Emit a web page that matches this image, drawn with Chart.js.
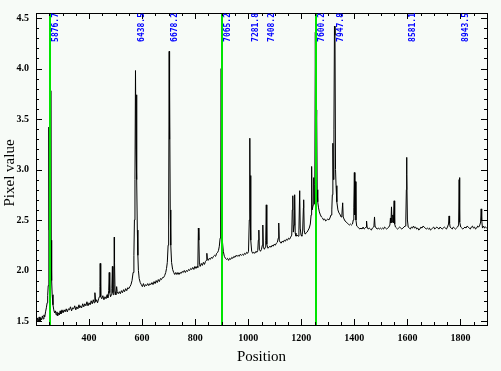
<!DOCTYPE html>
<html>
<head>
<meta charset="utf-8">
<script src="https://cdn.jsdelivr.net/npm/chart.js@4"></script>
<style>
  body { margin: 0; background: #f7fbf7; }
  #wrap { width: 501px; height: 371px; }
</style>
</head>
<body>
<div id="wrap"><canvas id="spec" width="501" height="371"></canvas></div>
<script>
// axis ticks
const xTicks = [400, 600, 800, 1000, 1200, 1400, 1600, 1800];
const yTicks = [1.5, 2.0, 2.5, 3.0, 3.5, 4.0, 4.5];

// identified lines (label, position)
const lineNames = ["5876.7", "6438.5", "6678.2", "7065.2", "7281.8", "7408.2", "7600.2", "7947.8", "8581.1", "8943.5"];
const linePos = [253, 577, 701, 900, 1006, 1066, 1254, 1326, 1597, 1797];

// green marker lines
const markerPos = [253, 900, 1257];

// [position, pixel value]
const spectrum = [
  [200,1.52],[203,1.49],[206,1.53],[209,1.50],[212,1.54],[215,1.49],[218,1.53],[221,1.51],[224,1.55],[227,1.52],
  [230,1.56],[233,1.54],[236,1.59],[239,1.63],[242,1.68],[244,1.75],[246,1.85],[248,2.2],[249,3.42],[250,2.4],
  [252,2.6],[254,2.3],[256,3.78],[257,2.3],[259,1.9],[261,1.76],[264,1.66],[267,1.61],[270,1.58],[273,1.60],
  [276,1.56],[279,1.59],[282,1.55],[285,1.58],[288,1.56],[291,1.60],[294,1.57],[298,1.61],[302,1.58],[306,1.61],
  [310,1.59],[314,1.62],[318,1.59],[322,1.62],[326,1.61],[330,1.64],[334,1.60],[338,1.63],[342,1.62],[346,1.65],
  [350,1.61],[354,1.64],[358,1.62],[362,1.66],[365,1.63],[368,1.65],[372,1.63],[376,1.67],[380,1.64],[384,1.67],
  [388,1.65],[392,1.69],[396,1.65],[400,1.68],[404,1.66],[408,1.70],[412,1.67],[416,1.71],[419,1.68],[422,1.78],
  [425,1.69],[428,1.71],[432,1.68],[436,1.72],[439,1.74],[441,1.84],[442,2.07],[443,1.88],[445,1.74],[448,1.72],
  [452,1.75],[456,1.71],[460,1.74],[464,1.72],[468,1.76],[471,1.73],[474,1.80],[476,1.98],[478,1.78],[481,1.74],
  [484,1.76],[486,1.82],[488,2.04],[490,1.78],[492,1.76],[494,1.86],[495,2.33],[496,2.08],[498,1.79],[501,1.76],
  [504,1.84],[506,1.79],[510,1.77],[514,1.79],[518,1.77],[522,1.80],[526,1.78],[530,1.81],[534,1.79],[538,1.82],
  [542,1.80],[546,1.83],[550,1.82],[554,1.84],[558,1.86],[562,1.90],[566,1.98],[569,2.15],[571,2.5],[573,2.9],
  [575,3.98],[577,3.2],[579,3.74],[580,2.9],[582,2.4],[584,2.15],[586,2.0],[589,1.92],[593,1.88],[597,1.86],
  [601,1.84],[605,1.87],[609,1.84],[613,1.86],[617,1.85],[621,1.87],[625,1.85],[629,1.87],[633,1.86],[637,1.88],
  [641,1.86],[645,1.89],[649,1.87],[653,1.90],[657,1.88],[661,1.91],[665,1.89],[669,1.92],[673,1.91],[677,1.93],
  [681,1.93],[685,1.95],[689,1.98],[692,2.02],[695,2.08],[698,2.25],[700,2.5],[702,4.17],[703,3.3],[704,3.81],
  [706,2.6],[708,2.25],[711,2.08],[715,2.01],[719,1.98],[723,1.96],[727,1.98],[731,1.96],[735,1.98],[739,1.96],
  [743,1.98],[747,1.97],[751,1.99],[755,1.98],[759,2.00],[763,1.98],[767,2.00],[771,1.99],[775,2.01],[779,2.00],
  [783,2.02],[787,2.01],[791,2.03],[795,2.01],[799,2.04],[803,2.02],[807,2.04],[810,2.03],[812,2.42],[814,2.30],
  [816,2.06],[819,2.04],[823,2.07],[827,2.05],[831,2.08],[835,2.06],[839,2.09],[842,2.10],[844,2.17],[846,2.11],
  [849,2.10],[853,2.12],[857,2.11],[861,2.13],[865,2.12],[869,2.14],[873,2.15],[877,2.14],[881,2.17],[885,2.18],
  [888,2.20],[891,2.24],[894,2.32],[896,2.5],[898,4.0],[899,3.0],[901,2.45],[903,2.28],[906,2.19],[910,2.14],
  [914,2.12],[918,2.11],[922,2.12],[926,2.10],[930,2.12],[934,2.11],[938,2.13],[942,2.12],[946,2.14],[950,2.13],
  [954,2.15],[958,2.14],[962,2.15],[966,2.14],[970,2.16],[974,2.15],[978,2.16],[982,2.15],[986,2.17],[990,2.16],
  [994,2.18],[998,2.17],[1001,2.19],[1004,2.5],[1006,3.31],[1007,2.6],[1009,2.94],[1010,2.3],[1013,2.19],[1017,2.17],
  [1021,2.18],[1025,2.17],[1029,2.19],[1033,2.18],[1036,2.20],[1038,2.30],[1040,2.40],[1042,2.21],[1046,2.19],[1050,2.21],
  [1053,2.25],[1055,2.45],[1057,2.23],[1061,2.21],[1064,2.23],[1066,2.30],[1068,2.65],[1070,2.26],[1074,2.22],[1078,2.23],
  [1082,2.24],[1086,2.23],[1090,2.25],[1094,2.24],[1098,2.26],[1102,2.25],[1106,2.27],[1110,2.28],[1113,2.32],[1115,2.47],
  [1117,2.30],[1120,2.28],[1124,2.27],[1128,2.29],[1132,2.28],[1136,2.30],[1140,2.29],[1144,2.31],[1148,2.30],[1152,2.32],
  [1156,2.31],[1160,2.33],[1164,2.35],[1166,2.60],[1168,2.74],[1170,2.38],[1173,2.45],[1175,2.75],[1177,2.37],[1180,2.34],
  [1184,2.35],[1188,2.34],[1191,2.40],[1194,2.79],[1196,2.42],[1199,2.35],[1202,2.34],[1205,2.38],[1208,2.62],[1209,2.70],
  [1211,2.40],[1214,2.36],[1218,2.37],[1222,2.38],[1226,2.40],[1230,2.42],[1234,2.46],[1237,2.55],[1239,3.03],[1241,2.60],
  [1245,2.65],[1247,2.92],[1249,2.66],[1251,2.85],[1253,4.36],[1255,3.2],[1258,3.59],[1260,2.8],[1262,2.68],[1265,2.62],
  [1268,2.58],[1272,2.55],[1276,2.53],[1280,2.52],[1284,2.50],[1288,2.51],[1292,2.49],[1296,2.50],[1300,2.51],[1304,2.50],
  [1308,2.52],[1312,2.55],[1315,2.60],[1317,2.75],[1319,3.26],[1321,2.9],[1323,3.4],[1325,4.42],[1327,4.33],[1329,3.0],
  [1331,2.84],[1334,2.68],[1338,2.60],[1342,2.57],[1345,2.56],[1350,2.53],[1353,2.55],[1356,2.67],[1358,2.53],[1361,2.51],
  [1365,2.49],[1369,2.48],[1373,2.47],[1377,2.46],[1381,2.45],[1385,2.46],[1389,2.45],[1393,2.46],[1396,2.50],[1398,2.62],
  [1400,2.97],[1402,2.55],[1404,2.88],[1406,2.50],[1409,2.44],[1413,2.43],[1417,2.42],[1421,2.41],[1425,2.42],[1429,2.41],
  [1433,2.43],[1437,2.41],[1441,2.42],[1444,2.43],[1446,2.49],[1448,2.43],[1452,2.41],[1456,2.42],[1460,2.41],[1464,2.40],
  [1468,2.42],[1472,2.43],[1474,2.45],[1476,2.53],[1478,2.44],[1482,2.42],[1486,2.41],[1490,2.42],[1494,2.41],[1498,2.42],
  [1502,2.41],[1506,2.42],[1510,2.41],[1514,2.43],[1518,2.42],[1522,2.41],[1526,2.42],[1530,2.43],[1534,2.45],[1536,2.52],
  [1538,2.47],[1540,2.63],[1542,2.48],[1545,2.55],[1547,2.47],[1550,2.69],[1552,2.46],[1555,2.43],[1559,2.42],[1563,2.41],
  [1567,2.42],[1571,2.43],[1575,2.42],[1579,2.41],[1583,2.42],[1587,2.43],[1591,2.44],[1594,2.50],[1596,2.80],[1597,3.12],
  [1598,2.95],[1600,2.50],[1603,2.43],[1607,2.42],[1611,2.41],[1615,2.43],[1619,2.42],[1623,2.44],[1627,2.42],[1631,2.43],
  [1635,2.41],[1639,2.42],[1643,2.40],[1647,2.41],[1651,2.43],[1655,2.42],[1659,2.44],[1663,2.43],[1667,2.42],[1671,2.41],
  [1675,2.42],[1679,2.41],[1683,2.42],[1687,2.40],[1691,2.41],[1695,2.42],[1699,2.43],[1703,2.41],[1707,2.42],[1711,2.43],
  [1715,2.42],[1719,2.41],[1723,2.43],[1727,2.42],[1731,2.41],[1735,2.42],[1739,2.43],[1743,2.42],[1747,2.41],[1751,2.43],
  [1755,2.46],[1757,2.54],[1759,2.47],[1761,2.43],[1765,2.42],[1769,2.41],[1773,2.43],[1777,2.42],[1781,2.41],[1785,2.42],
  [1789,2.43],[1793,2.45],[1795,2.90],[1796,2.92],[1798,2.48],[1801,2.43],[1805,2.42],[1809,2.41],[1813,2.42],[1817,2.43],
  [1821,2.42],[1825,2.44],[1829,2.43],[1833,2.42],[1837,2.41],[1841,2.43],[1845,2.44],[1849,2.42],[1853,2.43],[1857,2.41],
  [1861,2.42],[1865,2.44],[1869,2.43],[1873,2.45],[1876,2.48],[1878,2.61],[1880,2.50],[1883,2.42],[1887,2.44],[1891,2.42],
  [1895,2.43],[1899,2.42]
];

const tickFont = { family: "Liberation Serif", size: 10, weight: "bold" };

// frame, inward ticks, marker lines, line labels and axis titles
const framePlugin = {
  id: "frame",
  beforeDraw(chart) {
    const c = chart.ctx;
    c.save();
    c.fillStyle = "#f7fbf7";
    c.fillRect(0, 0, chart.width, chart.height);
    c.restore();
  },
  afterDatasetsDraw(chart) {
    const c = chart.ctx;
    const { left, right, top, bottom } = chart.chartArea;
    const xs = chart.scales.x, ys = chart.scales.y;
    c.save();

    // green markers
    c.strokeStyle = "#00e400";
    c.lineWidth = 2;
    markerPos.forEach(p => {
      const px = Math.round(xs.getPixelForValue(p));
      c.beginPath();
      c.moveTo(px, top);
      c.lineTo(px, bottom);
      c.stroke();
    });

    // box
    c.strokeStyle = "#000";
    c.lineWidth = 1;
    c.strokeRect(left + 0.5, top + 0.5, right - left, bottom - top);

    // ticks
    c.beginPath();
    for (let v = 200; v <= 1900; v += 50) {
      const px = Math.round(xs.getPixelForValue(v)) + 0.5;
      const len = v % 200 === 0 ? 6 : 3;
      c.moveTo(px, bottom); c.lineTo(px, bottom - len);
      c.moveTo(px, top); c.lineTo(px, top + len);
    }
    for (let i = 15; i <= 45; i++) {
      const py = Math.round(ys.getPixelForValue(i / 10)) + 0.5;
      const len = i % 5 === 0 ? 6 : 3;
      c.moveTo(left, py); c.lineTo(left + len, py);
      c.moveTo(right, py); c.lineTo(right - len, py);
    }
    c.stroke();

    // line labels, reading upward
    c.fillStyle = "#0000ff";
    c.font = 'bold 8px "DejaVu Sans Mono"';
    c.textAlign = "right";
    c.textBaseline = "top";
    lineNames.forEach((name, i) => {
      const px = Math.round(xs.getPixelForValue(linePos[i])) + 2;
      c.save();
      c.translate(px, 13);
      c.rotate(-Math.PI / 2);
      c.fillText(name, 0, 0);
      c.restore();
    });

    // axis titles
    c.fillStyle = "#000";
    c.font = '15px "Liberation Serif"';
    c.textAlign = "center";
    c.textBaseline = "middle";
    c.fillText("Position", (left + right) / 2, 357);
    c.save();
    c.translate(10, (top + bottom) / 2 + 4);
    c.rotate(-Math.PI / 2);
    c.fillText("Pixel value", 0, 0);
    c.restore();

    c.restore();
  }
};

const ctx = document.getElementById("spec");

new Chart(ctx, {
  type: "line",
  data: {
    datasets: [{
      data: spectrum.map(p => ({ x: p[0], y: p[1] })),
      borderColor: "#000",
      borderWidth: 1,
      pointRadius: 0,
      tension: 0,
      fill: false
    }]
  },
  options: {
    responsive: false,
    animation: false,
    devicePixelRatio: 1,
    layout: { padding: { top: 7, right: 14, left: 0, bottom: 0 } },
    plugins: { legend: { display: false }, tooltip: { enabled: false } },
    scales: {
      x: {
        type: "linear",
        min: 200,
        max: 1900,
        afterBuildTicks: s => { s.ticks = xTicks.map(v => ({ value: v })); },
        afterFit: s => { s.height = 46; },
        grid: { display: false, drawTicks: false },
        border: { display: false },
        ticks: { padding: 7, color: "#000", font: tickFont, maxRotation: 0, autoSkip: false, callback: v => String(v) }
      },
      y: {
        type: "linear",
        min: 1.46,
        max: 4.55,
        afterBuildTicks: s => { s.ticks = yTicks.map(v => ({ value: v })); },
        afterFit: s => { s.width = 36; },
        grid: { display: false, drawTicks: false },
        border: { display: false },
        ticks: { padding: 7, color: "#000", font: tickFont, autoSkip: false, callback: v => v.toFixed(1) }
      }
    }
  },
  plugins: [framePlugin]
});
</script>
</body>
</html>
